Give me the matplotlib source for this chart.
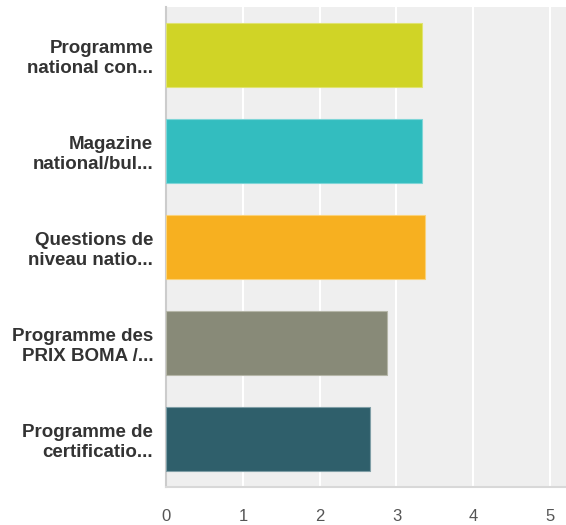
import matplotlib.pyplot as plt

labels = ['Programme\nnational con...', 'Magazine\nnational/bul...', 'Questions de\nniveau natio...',
          'Programme des\nPRIX BOMA /...', 'Programme de\ncertificatio...']
values = [3.33, 3.33, 3.37, 2.87, 2.66]
colors = ['#d0d426', '#33bdbf', '#f7b020', '#888a78', '#2f5f6b']
edges = ['#e0e370', '#7fd5d7', '#fad27a', '#b5b6a8', '#7f9ea6']

plt.rcParams['font.family'] = ['Liberation Sans', 'DejaVu Sans']

fig = plt.figure(figsize=(5.66, 5.25), dpi=100)
ax = fig.add_axes([0.294, 0.0724, 0.706, 0.9143])
ax.set_facecolor('#efefef')

y = list(range(len(values)))
ax.barh(y, values, height=2/3, color=colors, edgecolor=edges, linewidth=0.8, zorder=3)
ax.set_ylim(len(values) - 0.5, -0.5)
ax.set_xlim(0, 5.21)

ax.set_xticks([0, 1, 2, 3, 4, 5])
ax.grid(axis='x', color='white', linewidth=1.5, zorder=1)
ax.set_yticks(y)
ax.set_yticklabels(labels, fontsize=13.5, fontweight='bold', color='#333333', ha='right',
                   linespacing=1.25)
ax.tick_params(axis='y', length=0, pad=9.5)
ax.tick_params(axis='x', length=0, pad=16, labelsize=12, labelcolor='#555555')

for side in ['top', 'right']:
    ax.spines[side].set_visible(False)
ax.spines['left'].set_color('#cccccc')
ax.spines['left'].set_linewidth(1.5)
ax.spines['bottom'].set_color('#d8d8d8')
ax.spines['bottom'].set_linewidth(1.5)

fig.savefig('out.png', dpi=100)
